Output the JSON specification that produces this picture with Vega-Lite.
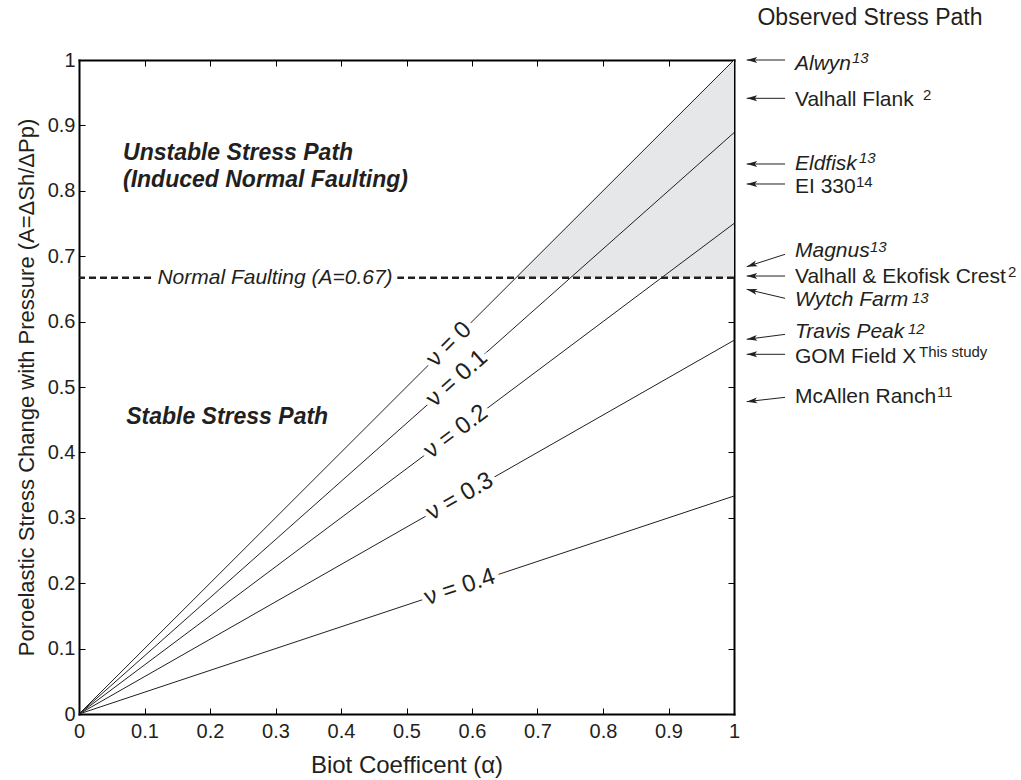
{
  "$schema": "https://vega.github.io/schema/vega-lite/v6.json",
  "width": 655,
  "height": 654,
  "autosize": {"type": "none"},
  "padding": {"left": 79, "top": 60, "right": 287, "bottom": 66},
  "background": "white",
  "config": {
    "view": {"stroke": null},
    "font": "Liberation Sans",
    "text": {"font": "Liberation Sans", "color": "#231f20"},
    "axis": {
      "labelFont": "Liberation Sans",
      "titleFont": "Liberation Sans",
      "labelColor": "#231f20",
      "titleColor": "#231f20",
      "labelFontSize": 20,
      "titleFontSize": 23,
      "titleFontWeight": "normal",
      "grid": false,
      "domainColor": "#000000",
      "domainWidth": 2,
      "domainCap": "square",
      "tickColor": "#000000",
      "tickWidth": 1,
      "tickSize": -6,
      "labelFlush": false,
      "labelOverlap": false,
      "zindex": 1
    }
  },
  "datasets": {
    "shade": [
      {"alpha": 0.667, "top": 0.667, "base": 0.667},
      {"alpha": 1, "top": 1, "base": 0.667}
    ],
    "paths": [
      {"nu": "0", "alpha": 0, "A": 0},
      {"nu": "0", "alpha": 1, "A": 1},
      {"nu": "0.1", "alpha": 0, "A": 0},
      {"nu": "0.1", "alpha": 1, "A": 0.8889},
      {"nu": "0.2", "alpha": 0, "A": 0},
      {"nu": "0.2", "alpha": 1, "A": 0.75},
      {"nu": "0.3", "alpha": 0, "A": 0},
      {"nu": "0.3", "alpha": 1, "A": 0.5714},
      {"nu": "0.4", "alpha": 0, "A": 0},
      {"nu": "0.4", "alpha": 1, "A": 0.3333}
    ],
    "nulabels": [
      {"label": "ν = 0", "slope": 1, "alpha": 0.565, "A": 0.565},
      {"label": "ν = 0.1", "slope": 0.8889, "alpha": 0.577, "A": 0.513},
      {"label": "ν = 0.2", "slope": 0.75, "alpha": 0.5755, "A": 0.4316},
      {"label": "ν = 0.3", "slope": 0.5714, "alpha": 0.5815, "A": 0.3323},
      {"label": "ν = 0.4", "slope": 0.3333, "alpha": 0.5815, "A": 0.1938}
    ],
    "regions": [
      {"label": "Unstable Stress Path", "alpha": 0.0672, "A": 0.847},
      {"label": "(Induced Normal Faulting)", "alpha": 0.0672, "A": 0.806},
      {"label": "Stable Stress Path", "alpha": 0.072, "A": 0.4434}
    ],
    "fault": [
      {"label": "Normal Faulting (A=0.67)", "alpha": 0.2992, "A": 0.667}
    ],
    "head": [
      {"label": "Observed Stress Path", "alpha": 1.2076, "A": 1.0535}
    ],
    "obs": [
      {"name": "Alwyn", "ref": "13", "ytext": 0.9847, "ytail": 1.0, "ytip": 1.0, "xsup": 1.1802, "ysup": 0.995},
      {"name": "Valhall Flank", "ref": "2", "ytext": 0.9297, "ytail": 0.9414, "ytip": 0.9414, "xsup": 1.2885, "ysup": 0.9388},
      {"name": "Eldfisk", "ref": "13", "ytext": 0.8318, "ytail": 0.841, "ytip": 0.841, "xsup": 1.1908, "ysup": 0.842},
      {"name": "EI 330", "ref": "14", "ytext": 0.7962, "ytail": 0.8104, "ytip": 0.8104, "xsup": 1.1863, "ysup": 0.8063},
      {"name": "Magnus", "ref": "13", "ytext": 0.6993, "ytail": 0.7029, "ytip": 0.684, "xsup": 1.2076, "ysup": 0.7069},
      {"name": "Valhall & Ekofisk Crest", "ref": "2", "ytext": 0.6585, "ytail": 0.6697, "ytip": 0.6697, "xsup": 1.4183, "ysup": 0.6687},
      {"name": "Wytch Farm", "ref": "13", "ytext": 0.6239, "ytail": 0.6356, "ytip": 0.6494, "xsup": 1.2718, "ysup": 0.6289},
      {"name": "Travis Peak", "ref": "12", "ytext": 0.5744, "ytail": 0.5805, "ytip": 0.5729, "xsup": 1.2656, "ysup": 0.5805},
      {"name": "GOM Field X", "ref": "This study", "ytext": 0.5362, "ytail": 0.55, "ytip": 0.55, "xsup": 1.2824, "ysup": 0.5464},
      {"name": "McAllen Ranch", "ref": "11", "ytext": 0.476, "ytail": 0.4842, "ytip": 0.4776, "xsup": 1.3099, "ysup": 0.4852}
    ]
  },
  "layer": [
    {
      "data": {"name": "shade"},
      "mark": {"type": "area", "fill": "#e6e7e8"},
      "encoding": {
        "x": {"field": "alpha", "type": "quantitative", "scale": {"domain": [0, 1], "nice": false, "zero": false},
          "axis": {"orient": "bottom", "values": [0, 0.1, 0.2, 0.3, 0.4, 0.5, 0.6, 0.7, 0.8, 0.9, 1], "format": "~g", "labelPadding": 13,
            "title": "Biot Coefficent (α)", "titleFontSize": 24, "titleBaseline": "alphabetic", "titleY": 58}},
        "y": {"field": "top", "type": "quantitative", "scale": {"domain": [0, 1], "nice": false, "zero": false},
          "axis": {"orient": "left", "values": [0, 0.1, 0.2, 0.3, 0.4, 0.5, 0.6, 0.7, 0.8, 0.9, 1], "format": "~g", "labelPadding": 10,
            "title": "Poroelastic Stress Change with Pressure (A=ΔSh/ΔPp)", "titleFontSize": 22, "titleBaseline": "alphabetic", "titleX": -46}},
        "y2": {"field": "base"}
      }
    },
    {
      "data": {"name": "paths"},
      "mark": {"type": "line", "color": "#231f20", "strokeWidth": 1},
      "encoding": {
        "x": {"field": "alpha", "type": "quantitative", "scale": {"domain": [0, 1], "nice": false, "zero": false},
          "axis": {"orient": "top", "values": [0, 0.1, 0.2, 0.3, 0.4, 0.5, 0.6, 0.7, 0.8, 0.9, 1], "labels": false, "title": null}},
        "y": {"field": "A", "type": "quantitative", "scale": {"domain": [0, 1], "nice": false, "zero": false},
          "axis": {"orient": "right", "values": [0, 0.1, 0.2, 0.3, 0.4, 0.5, 0.6, 0.7, 0.8, 0.9, 1], "labels": false, "title": null}},
        "detail": {"field": "nu", "type": "nominal"}
      }
    },
    {
      "data": {"name": "fault"},
      "mark": {"type": "rule", "color": "#231f20", "strokeWidth": 2.5, "strokeDash": [7, 4]},
      "encoding": {
        "y": {"field": "A", "type": "quantitative", "axis": null}
      }
    },
    {
      "data": {"name": "fault"},
      "mark": {"type": "text", "fontSize": 21, "fontStyle": "italic", "align": "center", "baseline": "middle", "fill": "white", "stroke": "white", "strokeWidth": 12},
      "encoding": {
        "x": {"field": "alpha", "type": "quantitative", "axis": null},
        "y": {"field": "A", "type": "quantitative", "axis": null},
        "text": {"field": "label"}
      }
    },
    {
      "data": {"name": "fault"},
      "mark": {"type": "text", "fontSize": 21, "fontStyle": "italic", "align": "center", "baseline": "middle", "fill": "#231f20"},
      "encoding": {
        "x": {"field": "alpha", "type": "quantitative", "axis": null},
        "y": {"field": "A", "type": "quantitative", "axis": null},
        "text": {"field": "label"}
      }
    },
    {
      "data": {"name": "nulabels"},
      "mark": {"type": "text", "fontSize": 24, "align": "center", "baseline": "middle", "fill": "white", "stroke": "white", "strokeWidth": 10},
      "encoding": {
        "x": {"field": "alpha", "type": "quantitative", "axis": null},
        "y": {"field": "A", "type": "quantitative", "axis": null},
        "angle": {"field": "slope", "type": "quantitative", "legend": null,
          "scale": {"domain": [0.3333, 0.5714, 0.75, 0.8889, 1], "range": [-18.4, -29.7, -36.85, -41.6, -45]}},
        "text": {"field": "label"}
      }
    },
    {
      "data": {"name": "nulabels"},
      "mark": {"type": "text", "fontSize": 24, "align": "center", "baseline": "middle", "fill": "#231f20"},
      "encoding": {
        "x": {"field": "alpha", "type": "quantitative", "axis": null},
        "y": {"field": "A", "type": "quantitative", "axis": null},
        "angle": {"field": "slope", "type": "quantitative", "legend": null,
          "scale": {"domain": [0.3333, 0.5714, 0.75, 0.8889, 1], "range": [-18.4, -29.7, -36.85, -41.6, -45]}},
        "text": {"field": "label"}
      }
    },
    {
      "data": {"name": "regions"},
      "mark": {"type": "text", "fontSize": 23, "fontWeight": "bold", "fontStyle": "italic", "align": "left", "baseline": "alphabetic", "fill": "#231f20"},
      "encoding": {
        "x": {"field": "alpha", "type": "quantitative", "axis": null},
        "y": {"field": "A", "type": "quantitative", "axis": null},
        "text": {"field": "label"}
      }
    },
    {
      "data": {"name": "obs"},
      "mark": {"type": "rule", "color": "#231f20", "strokeWidth": 1},
      "encoding": {
        "x": {"datum": 1.0779, "type": "quantitative", "axis": null},
        "x2": {"datum": 1.0194},
        "y": {"field": "ytail", "type": "quantitative", "axis": null},
        "y2": {"field": "ytip"}
      }
    },
    {
      "data": {"name": "obs"},
      "mark": {"type": "point", "shape": "M0,0L3,-0.85L2.3,0L3,0.85Z", "filled": true, "size": 49, "opacity": 1, "color": "#231f20", "strokeWidth": 0},
      "encoding": {
        "x": {"datum": 1.0194, "type": "quantitative", "axis": null},
        "y": {"field": "ytip", "type": "quantitative", "axis": null},
        "angle": {"field": "name", "type": "nominal", "legend": null,
          "scale": {"type": "ordinal",
            "domain": ["Alwyn", "Valhall Flank", "Eldfisk", "EI 330", "Magnus", "Valhall & Ekofisk Crest", "Wytch Farm", "Travis Peak", "GOM Field X", "McAllen Ranch"],
            "range": [0, 0, 0, 0, -18.5, 0, 13.7, -7.7, 0, -6.8]}}
      }
    },
    {
      "data": {"name": "obs"},
      "transform": [{"filter": "indexof(['13','12'], datum.ref) < 0"}],
      "mark": {"type": "text", "fontSize": 21, "align": "left", "baseline": "alphabetic", "fill": "#231f20"},
      "encoding": {
        "x": {"datum": 1.0931, "type": "quantitative", "axis": null},
        "y": {"field": "ytext", "type": "quantitative", "axis": null},
        "text": {"field": "name"}
      }
    },
    {
      "data": {"name": "obs"},
      "transform": [{"filter": "indexof(['13','12'], datum.ref) >= 0"}],
      "mark": {"type": "text", "fontSize": 21, "fontStyle": "italic", "align": "left", "baseline": "alphabetic", "fill": "#231f20"},
      "encoding": {
        "x": {"datum": 1.0931, "type": "quantitative", "axis": null},
        "y": {"field": "ytext", "type": "quantitative", "axis": null},
        "text": {"field": "name"}
      }
    },
    {
      "data": {"name": "obs"},
      "transform": [{"filter": "indexof(['13','12'], datum.ref) < 0"}],
      "mark": {"type": "text", "fontSize": 15, "align": "left", "baseline": "alphabetic", "fill": "#231f20"},
      "encoding": {
        "x": {"field": "xsup", "type": "quantitative", "axis": null},
        "y": {"field": "ysup", "type": "quantitative", "axis": null},
        "text": {"field": "ref"}
      }
    },
    {
      "data": {"name": "obs"},
      "transform": [{"filter": "indexof(['13','12'], datum.ref) >= 0"}],
      "mark": {"type": "text", "fontSize": 15, "fontStyle": "italic", "align": "left", "baseline": "alphabetic", "fill": "#231f20"},
      "encoding": {
        "x": {"field": "xsup", "type": "quantitative", "axis": null},
        "y": {"field": "ysup", "type": "quantitative", "axis": null},
        "text": {"field": "ref"}
      }
    },
    {
      "data": {"name": "head"},
      "mark": {"type": "text", "fontSize": 23, "align": "center", "baseline": "alphabetic", "fill": "#231f20"},
      "encoding": {
        "x": {"field": "alpha", "type": "quantitative", "axis": null},
        "y": {"field": "A", "type": "quantitative", "axis": null},
        "text": {"field": "label"}
      }
    }
  ],
  "resolve": {"axis": {"x": "independent", "y": "independent"}}
}
